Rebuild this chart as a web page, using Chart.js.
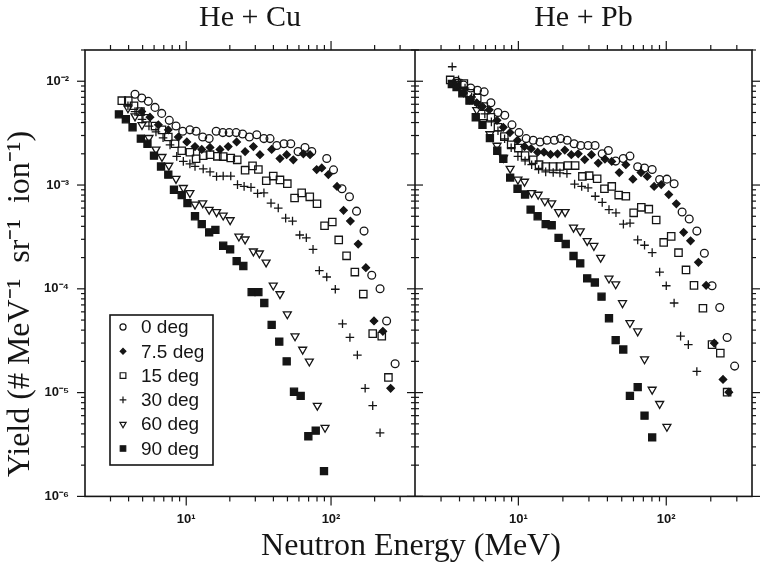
<!DOCTYPE html>
<html>
<head>
<meta charset="utf-8">
<script src="https://cdn.jsdelivr.net/npm/chart.js@4.4.0/dist/chart.umd.min.js"></script>
<style>
  html, body { margin: 0; padding: 0; background: #fff; }
</style>
</head>
<body>
<canvas id="yieldChart" width="761" height="573"></canvas>
<script>
// text
const panelTitles = ['He + Cu', 'He + Pb'];
const xTitle = 'Neutron Energy (MeV)';
const yTitle = 'Yield (# MeV\u207B\u00B9  sr\u207B\u00B9  ion\u207B\u00B9)';
const angleLabels = ['0 deg', '7.5 deg', '15 deg', '30 deg', '60 deg', '90 deg'];

// axis ranges
const xRange = [2, 380];
const yRange = [1e-6, 2e-2];
const xDecades = [10, 100];
const yDecades = [1e-6, 1e-5, 1e-4, 1e-3, 1e-2];

// He + Cu, energy (MeV) and yield per angle
const cu0E = [4.43, 4.93, 5.47, 6.09, 6.77, 7.64, 8.50, 9.46, 10.6, 11.7, 13.0, 14.4, 16.1, 17.9, 19.8, 22.1, 24.5, 27.3, 30.7, 34.4, 37.9, 42.2, 47.3, 52.7, 59.2, 66.1, 73.6, 93.4, 104, 119, 134, 150, 169, 191, 218, 242, 277];
const cu0Y = [7.5e-3, 6.9e-3, 6.4e-3, 5.6e-3, 4.9e-3, 4.2e-3, 3.7e-3, 3.3e-3, 3.4e-3, 3.3e-3, 2.9e-3, 2.8e-3, 3.3e-3, 3.2e-3, 3.2e-3, 3.2e-3, 3.1e-3, 2.9e-3, 3.05e-3, 2.8e-3, 2.8e-3, 2.4e-3, 2.5e-3, 2.5e-3, 2.1e-3, 2.3e-3, 2.1e-3, 1.8e-3, 1.4e-3, 9.2e-4, 7.7e-4, 5.6e-4, 3.6e-4, 1.35e-4, 1.0e-4, 4.9e-5, 1.9e-5];
const cu7E = [4.93, 5.62, 6.42, 7.52, 8.82, 10.1, 11.5, 12.8, 14.6, 17.1, 19.5, 22.3, 25.5, 29.1, 32.3, 38.9, 44.4, 49.4, 54.9, 64.4, 71.6, 79.6, 86.3, 95.8, 110, 122, 136, 154, 174, 198, 228, 258];
const cu7Y = [5.1e-3, 4.5e-3, 3.8e-3, 3.4e-3, 2.9e-3, 2.6e-3, 2.35e-3, 2.2e-3, 2.3e-3, 2.2e-3, 2.35e-3, 2.6e-3, 2.1e-3, 2.35e-3, 1.96e-3, 2.2e-3, 1.8e-3, 1.96e-3, 1.75e-3, 2.0e-3, 1.96e-3, 1.41e-3, 1.46e-3, 1.26e-3, 9.7e-4, 5.7e-4, 4.5e-4, 2.7e-4, 1.6e-4, 4.9e-5, 3.9e-5, 1.1e-5];
const cu15E = [3.59, 3.98, 4.36, 4.83, 5.33, 6.09, 6.80, 7.52, 8.37, 9.31, 10.6, 11.7, 13.1, 14.6, 16.4, 18.0, 20.3, 22.5, 25.5, 28.7, 31.5, 35.7, 39.9, 44.4, 49.9, 56.0, 62.7, 71.3, 80.0, 90.2, 102, 113, 128, 146, 167, 194, 224, 249];
const cu15Y = [6.5e-3, 6.5e-3, 5.8e-3, 5.1e-3, 4.4e-3, 3.7e-3, 3.4e-3, 2.9e-3, 2.5e-3, 2.14e-3, 2.07e-3, 1.79e-3, 1.92e-3, 1.96e-3, 1.89e-3, 1.88e-3, 1.82e-3, 1.75e-3, 1.39e-3, 1.53e-3, 1.41e-3, 1.10e-3, 1.22e-3, 1.12e-3, 1.03e-3, 7.5e-4, 8.4e-4, 7.7e-4, 6.6e-4, 4.05e-4, 4.4e-4, 2.96e-4, 2.08e-4, 1.45e-4, 8.9e-5, 3.7e-5, 3.5e-5, 1.4e-5];
const cu30E = [3.96, 4.43, 4.95, 5.53, 6.18, 6.92, 7.73, 8.60, 9.55, 10.6, 11.5, 13.1, 14.6, 16.2, 18.0, 20.3, 22.6, 25.1, 28.0, 31.1, 34.4, 38.5, 43.2, 48.6, 54.2, 60.8, 67.5, 75.1, 83.0, 93.4, 107, 120, 135, 152, 172, 194, 218];
const cu30Y = [5.8e-3, 5.1e-3, 4.3e-3, 3.7e-3, 3.25e-3, 2.85e-3, 2.44e-3, 1.89e-3, 1.69e-3, 1.60e-3, 1.51e-3, 1.43e-3, 1.34e-3, 1.21e-3, 1.22e-3, 1.22e-3, 1.01e-3, 9.7e-4, 9.5e-4, 8.3e-4, 8.4e-4, 6.7e-4, 6.0e-4, 4.8e-4, 4.5e-4, 3.3e-4, 3.1e-4, 2.4e-4, 1.5e-4, 1.3e-4, 9.9e-5, 4.6e-5, 3.4e-5, 2.3e-5, 1.1e-5, 7.5e-6, 4.1e-6];
const cu60E = [3.96, 4.43, 4.95, 5.53, 6.18, 6.80, 7.58, 8.50, 9.55, 10.6, 11.5, 13.0, 14.4, 16.2, 18.0, 20.1, 23.1, 25.5, 29.1, 32.0, 35.6, 39.9, 44.4, 49.9, 56.4, 63.7, 70.8, 80.4, 90.9];
const cu60Y = [5.5e-3, 4.6e-3, 3.8e-3, 2.85e-3, 2.2e-3, 1.87e-3, 1.54e-3, 1.15e-3, 9.4e-4, 8.4e-4, 6.5e-4, 6.7e-4, 5.8e-4, 5.5e-4, 5.1e-4, 4.6e-4, 3.2e-4, 3.0e-4, 2.3e-4, 2.2e-4, 1.8e-4, 1.08e-4, 8.9e-5, 5.7e-5, 3.5e-5, 2.6e-5, 2.0e-5, 7.5e-6, 4.6e-6];
const cu90E = [3.43, 3.83, 4.26, 4.86, 5.40, 5.99, 6.70, 7.52, 8.23, 9.31, 10.2, 11.5, 12.8, 14.4, 15.9, 18.0, 20.1, 22.3, 24.8, 28.3, 31.5, 34.6, 38.9, 43.9, 49.4, 55.5, 61.7, 69.7, 78.4, 89.4];
const cu90Y = [4.8e-3, 4.3e-3, 3.6e-3, 2.8e-3, 2.5e-3, 1.92e-3, 1.51e-3, 1.26e-3, 9.0e-4, 8.0e-4, 6.7e-4, 5.0e-4, 4.2e-4, 3.5e-4, 3.7e-4, 2.6e-4, 2.4e-4, 1.85e-4, 1.66e-4, 9.3e-5, 9.3e-5, 7.3e-5, 4.5e-5, 3.1e-5, 2.0e-5, 1.02e-5, 9.3e-6, 3.8e-6, 4.3e-6, 1.75e-6];

// He + Pb
const pb0E = [3.82, 4.26, 4.76, 5.29, 5.87, 6.52, 7.28, 8.09, 9.05, 10.1, 11.3, 12.6, 14.0, 15.6, 17.5, 19.3, 21.4, 23.8, 26.4, 29.6, 33.0, 36.9, 40.6, 45.5, 51.2, 56.8, 64.1, 71.3, 80.3, 90.2, 101, 113, 128, 143, 161, 181, 204, 230, 258, 290];
const pb0Y = [1.0e-2, 9.2e-3, 8.6e-3, 8.2e-3, 7.9e-3, 6.2e-3, 5.0e-3, 4.7e-3, 3.8e-3, 3.2e-3, 2.8e-3, 2.7e-3, 2.6e-3, 2.7e-3, 2.7e-3, 2.8e-3, 2.7e-3, 2.5e-3, 2.4e-3, 2.4e-3, 2.4e-3, 2.0e-3, 2.15e-3, 1.7e-3, 1.8e-3, 1.9e-3, 1.5e-3, 1.46e-3, 1.41e-3, 1.13e-3, 1.14e-3, 1.03e-3, 5.5e-4, 4.7e-4, 3.6e-4, 2.2e-4, 1.07e-4, 6.6e-5, 3.4e-5, 1.8e-5];
const pb7E = [3.82, 4.26, 4.76, 5.23, 5.72, 6.35, 7.17, 7.91, 8.77, 9.87, 11.0, 12.2, 13.5, 14.9, 16.5, 18.4, 20.6, 22.8, 25.4, 28.1, 31.2, 34.7, 38.5, 42.8, 48.1, 53.3, 59.5, 67.5, 74.4, 82.8, 92.5, 104, 117, 131, 146, 165, 186, 211, 242, 265];
const pb7Y = [9.0e-3, 7.7e-3, 6.75e-3, 6.2e-3, 5.7e-3, 5.3e-3, 4.2e-3, 3.6e-3, 3.2e-3, 2.7e-3, 2.35e-3, 2.24e-3, 2.07e-3, 2.07e-3, 1.97e-3, 2.0e-3, 2.17e-3, 1.96e-3, 2.0e-3, 1.76e-3, 1.96e-3, 1.63e-3, 1.78e-3, 1.69e-3, 1.32e-3, 1.57e-3, 1.14e-3, 1.32e-3, 1.21e-3, 9.7e-4, 1.01e-3, 8.1e-4, 6.6e-4, 3.5e-4, 2.9e-4, 1.8e-4, 1.08e-4, 3.0e-5, 1.34e-5, 1.01e-5];
const pb15E = [3.46, 3.86, 4.28, 4.76, 5.27, 5.84, 6.52, 7.28, 8.04, 8.94, 10.0, 11.1, 12.6, 13.8, 15.3, 17.2, 19.1, 21.6, 24.2, 27.1, 30.1, 34.1, 38.2, 42.8, 47.7, 53.3, 60.2, 67.8, 76.2, 85.5, 96.1, 108, 121, 136, 154, 177, 204, 232, 258];
const pb15Y = [1.03e-2, 9.6e-3, 9.5e-3, 7.65e-3, 6.9e-3, 5.7e-3, 4.5e-3, 3.6e-3, 2.93e-3, 2.44e-3, 2.27e-3, 1.92e-3, 1.75e-3, 1.57e-3, 1.51e-3, 1.51e-3, 1.51e-3, 1.54e-3, 1.54e-3, 1.21e-3, 1.23e-3, 1.15e-3, 9.2e-4, 9.7e-4, 8.0e-4, 7.8e-4, 5.4e-4, 6.1e-4, 5.85e-4, 4.6e-4, 2.8e-4, 3.2e-4, 2.23e-4, 1.52e-4, 1.08e-4, 6.5e-5, 2.9e-5, 2.4e-5, 1.01e-5];
const pb30E = [3.57, 3.94, 4.36, 4.83, 5.36, 5.93, 6.57, 7.28, 8.07, 8.94, 9.93, 11.1, 12.3, 13.7, 15.3, 17.2, 19.1, 21.3, 24.0, 26.8, 29.6, 33.1, 36.9, 41.0, 45.7, 51.3, 56.9, 64.1, 71.3, 80.3, 90.2, 100, 113, 125, 141, 161];
const pb30Y = [1.38e-2, 1.03e-2, 8.6e-3, 7.05e-3, 5.9e-3, 4.84e-3, 4.06e-3, 3.33e-3, 2.79e-3, 2.29e-3, 1.89e-3, 1.71e-3, 1.57e-3, 1.41e-3, 1.34e-3, 1.32e-3, 1.31e-3, 1.29e-3, 1.02e-3, 9.7e-4, 9.4e-4, 7.8e-4, 6.8e-4, 5.8e-4, 5.4e-4, 4.2e-4, 4.3e-4, 2.96e-4, 2.63e-4, 2.23e-4, 1.45e-4, 1.07e-4, 7.3e-5, 3.5e-5, 2.9e-5, 1.6e-5];
const pb60E = [3.82, 4.23, 4.68, 5.23, 5.79, 6.42, 7.17, 7.94, 8.80, 9.93, 11.0, 12.3, 13.6, 15.1, 16.8, 18.7, 20.7, 23.6, 26.2, 29.2, 32.4, 36.0, 41.0, 45.5, 50.6, 56.8, 64.1, 71.3, 80.3, 90.2, 101];
const pb60Y = [9.4e-3, 8.05e-3, 6.75e-3, 5.3e-3, 4.06e-3, 3.1e-3, 2.4e-3, 1.83e-3, 1.44e-3, 1.13e-3, 1.08e-3, 8.4e-4, 8.1e-4, 7.0e-4, 6.7e-4, 5.5e-4, 5.5e-4, 3.9e-4, 3.6e-4, 2.9e-4, 2.6e-4, 2.0e-4, 1.26e-4, 1.11e-4, 7.3e-5, 4.7e-5, 3.9e-5, 2.1e-5, 1.07e-5, 7.8e-6, 4.7e-6];
const pb90E = [3.55, 3.82, 4.18, 4.67, 5.15, 5.72, 6.42, 7.20, 7.91, 8.80, 9.87, 11.1, 12.1, 13.5, 15.3, 16.8, 18.7, 20.9, 23.6, 26.2, 29.2, 32.9, 36.5, 41.0, 45.5, 51.2, 56.8, 64.1, 71.3, 80.3];
const pb90Y = [9.4e-3, 8.8e-3, 7.65e-3, 6.5e-3, 4.5e-3, 3.8e-3, 2.83e-3, 2.14e-3, 1.79e-3, 1.18e-3, 9.2e-4, 8.1e-4, 5.8e-4, 5.0e-4, 4.2e-4, 4.1e-4, 3.1e-4, 2.7e-4, 2.07e-4, 1.76e-4, 1.26e-4, 1.15e-4, 8.4e-5, 5.2e-5, 3.2e-5, 2.6e-5, 9.3e-6, 1.13e-5, 6.0e-6, 3.7e-6];

const cuSeries = [[cu0E, cu0Y], [cu7E, cu7Y], [cu15E, cu15Y], [cu30E, cu30Y], [cu60E, cu60Y], [cu90E, cu90Y]];
const pbSeries = [[pb0E, pb0Y], [pb7E, pb7Y], [pb15E, pb15Y], [pb30E, pb30Y], [pb60E, pb60Y], [pb90E, pb90Y]];

const ink = '#151515';
const markers = [
  { pointStyle: 'circle', radius: 3.9, rotation: 0, filled: false },
  { pointStyle: 'rectRot', radius: 3.7, rotation: 0, filled: true },
  { pointStyle: 'rect', radius: 5.2, rotation: 0, filled: false },
  { pointStyle: 'cross', radius: 4.3, rotation: 0, filled: false },
  { pointStyle: 'triangle', radius: 4.6, rotation: 180, filled: false },
  { pointStyle: 'rect', radius: 5.0, rotation: 0, filled: true }
];

const sup = { '-': '\u207B', '0': '\u2070', '1': '\u00B9', '2': '\u00B2', '3': '\u00B3', '4': '\u2074', '5': '\u2075', '6': '\u2076', '7': '\u2077', '8': '\u2078', '9': '\u2079' };
function powerLabel(v) {
  const e = Math.round(Math.log10(v));
  return '10' + String(e).split('').map(c => sup[c]).join('');
}

function logTicks(min, max) {
  const out = [];
  for (let e = Math.floor(Math.log10(min)); e <= Math.ceil(Math.log10(max)); e++) {
    for (let m = 1; m <= 9; m++) {
      const v = m * Math.pow(10, e);
      if (v >= min * 0.999 && v <= max * 1.001) out.push({ v: v, major: m === 1 });
    }
  }
  return out;
}

function makeDatasets(series, axisId) {
  return series.map(function(s, i) {
    const m = markers[i];
    return {
      label: angleLabels[i],
      data: s[0].map((x, k) => ({ x: x, y: s[1][k] })),
      xAxisID: axisId,
      yAxisID: 'y',
      showLine: false,
      pointStyle: m.pointStyle,
      pointRadius: m.radius,
      pointRotation: m.rotation,
      pointBorderWidth: 1.3,
      borderColor: ink,
      backgroundColor: m.filled ? ink : 'rgba(0,0,0,0)'
    };
  });
}

function fallbackPoint(ctx, o, x, y) {
  ctx.beginPath();
  ctx.arc(x, y, o.radius, 0, Math.PI * 2);
  ctx.fill();
  ctx.stroke();
}
const drawPoint = (Chart.helpers && Chart.helpers.drawPoint) || fallbackPoint;

function line(ctx, x1, y1, x2, y2) {
  ctx.beginPath();
  ctx.moveTo(x1, y1);
  ctx.lineTo(x2, y2);
  ctx.stroke();
}

const framePlugin = {
  id: 'frame',
  afterDatasetsDraw(chart) {
    const ctx = chart.ctx;
    const area = chart.chartArea;
    const ys = chart.scales.y;
    const panels = [chart.scales.x, chart.scales.x2];
    const mid = chart.scales.x2.left;
    ctx.save();
    ctx.strokeStyle = ink;
    ctx.lineWidth = 1.6;
    ctx.strokeRect(area.left, area.top, area.width, area.height);
    line(ctx, mid, area.top, mid, area.bottom);

    ctx.lineWidth = 1.2;
    logTicks(yRange[0], yRange[1]).forEach(function(t) {
      const py = ys.getPixelForValue(t.v);
      const len = t.major ? 8 : 4;
      line(ctx, area.left - len, py, area.left, py);
      line(ctx, mid - len, py, mid + len, py);
      line(ctx, area.right, py, area.right + len, py);
    });
    panels.forEach(function(sc) {
      logTicks(xRange[0], xRange[1]).forEach(function(t) {
        const px = sc.getPixelForValue(t.v);
        if (px < sc.left + 1 || px > sc.right - 1) return;
        const len = t.major ? 9 : 5;
        line(ctx, px, area.bottom, px, area.bottom + len);
        line(ctx, px, area.top - len, px, area.top);
      });
    });

    // axis titles
    ctx.fillStyle = ink;
    ctx.font = '32px "Liberation Serif"';
    ctx.textAlign = 'center';
    ctx.textBaseline = 'middle';
    ctx.fillText(xTitle, mid - 4, 547);
    ctx.save();
    ctx.translate(21, area.top + 254);
    ctx.rotate(-Math.PI / 2);
    ctx.fillText(yTitle, 0, 0);
    ctx.restore();

    // legend box
    const lx = area.left + 25, ly = area.top + 265, lw = 103, lh = 150;
    ctx.fillStyle = '#fff';
    ctx.fillRect(lx, ly, lw, lh);
    ctx.lineWidth = 1.6;
    ctx.strokeRect(lx, ly, lw, lh);
    angleLabels.forEach(function(label, i) {
      const m = markers[i];
      const cy = ly + 12 + i * 24.3;
      ctx.fillStyle = m.filled ? ink : 'rgba(0,0,0,0)';
      ctx.strokeStyle = ink;
      ctx.lineWidth = 1.2;
      drawPoint(ctx, { pointStyle: m.pointStyle, radius: m.radius * 0.78, rotation: m.rotation, borderWidth: 1.2 }, lx + 13, cy);
      ctx.fillStyle = ink;
      ctx.font = '19px "Liberation Sans"';
      ctx.textAlign = 'left';
      ctx.textBaseline = 'middle';
      ctx.fillText(label, lx + 31, cy + 1);
    });
    ctx.restore();
  }
};

function bottomAxis(weight) {
  return {
    type: 'logarithmic', position: 'bottom', stack: 'bottom', stackWeight: weight,
    min: xRange[0], max: xRange[1], bounds: 'data',
    grid: { display: false, drawTicks: false },
    border: { display: false },
    afterBuildTicks: function(scale) { scale.ticks = xDecades.map(v => ({ value: v })); },
    ticks: {
      autoSkip: false, maxRotation: 0, padding: 15, color: ink,
      font: { family: 'Liberation Sans', size: 13, weight: 'bold' },
      callback: v => powerLabel(v)
    }
  };
}
function topAxis(title, weight) {
  return {
    type: 'logarithmic', position: 'top', stack: 'top', stackWeight: weight,
    min: xRange[0], max: xRange[1], bounds: 'data',
    grid: { display: false, drawTicks: false },
    border: { display: false },
    ticks: { display: false },
    title: { display: true, text: title, color: ink, padding: { top: 0, bottom: 14 },
      font: { family: 'Liberation Serif', size: 30 } }
  };
}

new Chart(document.getElementById('yieldChart').getContext('2d'), {
  type: 'scatter',
  data: { datasets: makeDatasets(cuSeries, 'x').concat(makeDatasets(pbSeries, 'x2')) },
  options: {
    responsive: false,
    animation: false,
    layout: { padding: { left: 0, right: 9, top: 0, bottom: 31 } },
    plugins: { legend: { display: false }, tooltip: { enabled: false } },
    scales: {
      x: bottomAxis(330),
      x2: bottomAxis(337),
      // top boxes are laid out in reverse order, so the right one comes first
      xtRight: topAxis(panelTitles[1], 337),
      xtLeft: topAxis(panelTitles[0], 330),
      y: {
        type: 'logarithmic', position: 'left',
        min: yRange[0], max: yRange[1], bounds: 'data',
        grid: { display: false, drawTicks: false },
        border: { display: false },
        afterBuildTicks: function(scale) { scale.ticks = yDecades.map(v => ({ value: v })); },
        afterFit: function(scale) { scale.width = 85; },
        ticks: {
          autoSkip: false, padding: 16, color: ink,
          font: { family: 'Liberation Sans', size: 13, weight: 'bold' },
          callback: v => powerLabel(v)
        }
      }
    }
  },
  plugins: [framePlugin]
});
</script>
</body>
</html>
